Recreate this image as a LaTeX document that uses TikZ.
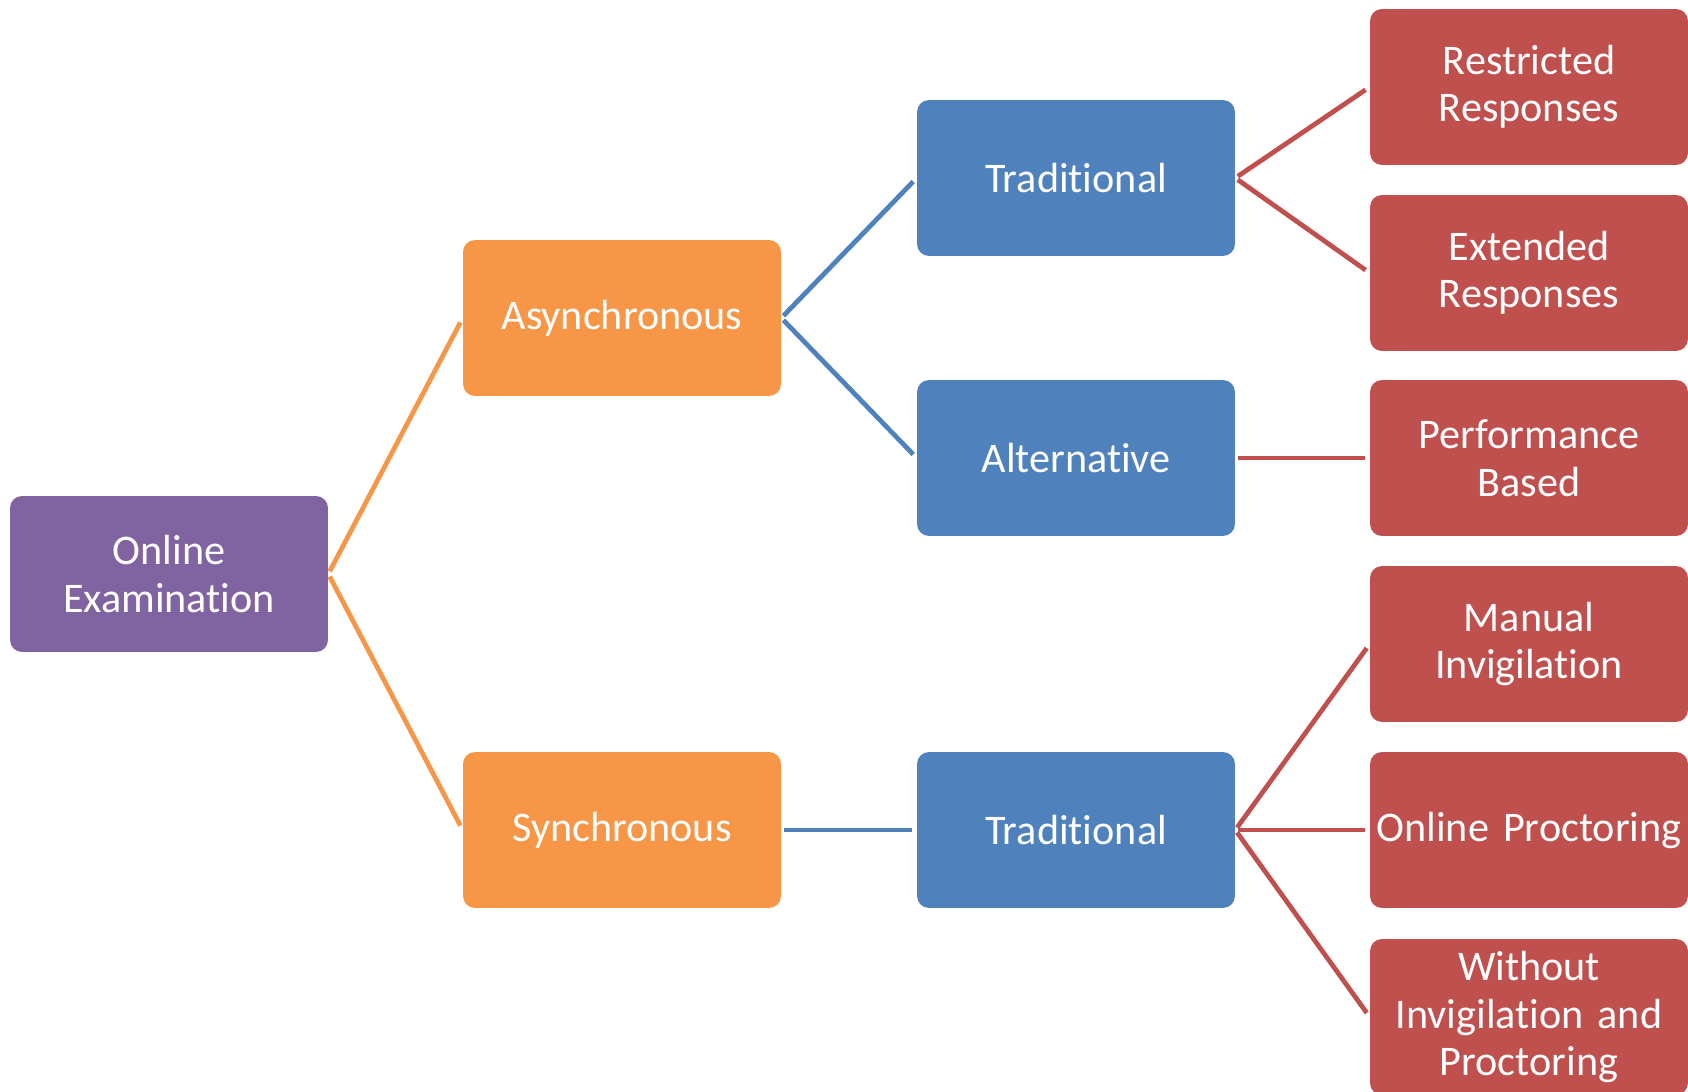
\documentclass[tikz,border=0pt]{standalone}
\usepackage{fontspec}
\setmainfont{Carlito}[Ligatures=NoCommon]
\usetikzlibrary{calc}
\definecolor{examPurple}{HTML}{8064A2}
\definecolor{examOrange}{HTML}{F79646}
\definecolor{examBlue}{HTML}{4F81BD}
\definecolor{examRed}{HTML}{C0504D}
\tikzset{
	box/.style={rectangle, rounded corners=0.24cm, fill=#1, text=white,
		minimum width=6.36cm, minimum height=3.12cm, text width=6.1cm,
		align=center, inner sep=0pt,
		font=\fontsize{24}{27}\selectfont},
	link/.style={line width=0.095cm, draw=#1, shorten <=0.06cm, shorten >=0.1cm}
}
\newcommand{\drawLink}[3]{
	\draw[link=#3] (#1.east) -- (#2.west);
}

\begin{document}
\begin{tikzpicture}[x=0.02cm, y=-0.02cm]
		\useasboundingbox (0,0) rectangle (1688,1092);
		\begin{scope}
		\clip (0,0) rectangle (1688,1092);

		\node[box=examPurple] (exam) at (169,574) {Online\\Examination};

		\node[box=examOrange] (async) at (622,318) {Asynchronous};
		\node[box=examOrange] (sync) at (622,830) {Synchronous};

		\node[box=examBlue] (tradA) at (1076,178) {Traditional};
		\node[box=examBlue] (altA) at (1076,458) {Alternative};
		\node[box=examBlue] (tradS) at (1076,830) {Traditional};

		\node[box=examRed] (restr) at (1529,87) {Restricted\\Responses};
		\node[box=examRed] (ext) at (1529,273) {Extended\\Responses};
		\node[box=examRed] (perf) at (1529,458) {Performance\\Based};
		\node[box=examRed] (manual) at (1529,644) {Manual\\Invigilation};
		\node[box=examRed] (proct) at (1529,830) {Online Proctoring};
		\node[box=examRed] (without) at (1529,1017) {Without\\Invigilation and\\Proctoring};

		\drawLink{exam}{async}{examOrange}
		\drawLink{exam}{sync}{examOrange}
		\drawLink{async}{tradA}{examBlue}
		\drawLink{async}{altA}{examBlue}
		\drawLink{sync}{tradS}{examBlue}
		\drawLink{tradA}{restr}{examRed}
		\drawLink{tradA}{ext}{examRed}
		\drawLink{altA}{perf}{examRed}
		\drawLink{tradS}{manual}{examRed}
		\drawLink{tradS}{proct}{examRed}
		\drawLink{tradS}{without}{examRed}
		\end{scope}
	\end{tikzpicture}
\end{document}
